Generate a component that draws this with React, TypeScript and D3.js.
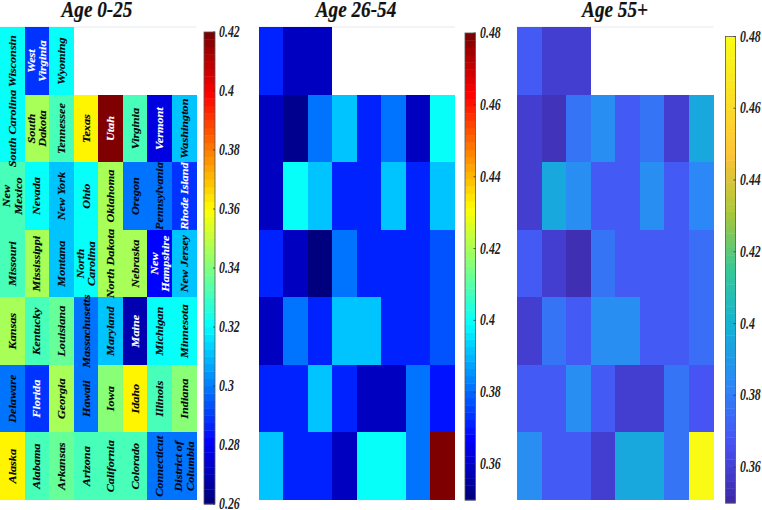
import React from "react";
import * as d3 from "d3";

const titles = ["Age 0-25", "Age 26-54", "Age 55+"];
const labelRows = [
  ["Wisconsin", "West|Virginia", "Wyoming"],
  ["South Carolina", "South|Dakota", "Tennessee", "Texas", "Utah", "Virginia", "Vermont", "Washington"],
  ["New|Mexico", "Nevada", "New York", "Ohio", "Oklahoma", "Oregon", "Pennsylvania", "Rhode Island"],
  ["Missouri", "Mississippi", "Montana", "North|Carolina", "North Dakota", "Nebraska", "New|Hampshire", "New Jersey"],
  ["Kansas", "Kentucky", "Louisiana", "Massachusetts", "Maryland", "Maine", "Michigan", "Minnesota"],
  ["Delaware", "Florida", "Georgia", "Hawaii", "Iowa", "Idaho", "Illinois", "Indiana"],
  ["Alaska", "Alabama", "Arkansas", "Arizona", "California", "Colorado", "Connecticut", "District of|Columbia"],
];
const young = [
  [0.32, 0.288, 0.32],
  [0.32, 0.346, 0.33, 0.36, 0.42, 0.33, 0.275, 0.312],
  [0.33, 0.32, 0.31, 0.32, 0.346, 0.3, 0.3, 0.29],
  [0.33, 0.346, 0.31, 0.32, 0.346, 0.346, 0.28, 0.312],
  [0.346, 0.33, 0.336, 0.3, 0.31, 0.268, 0.32, 0.32],
  [0.3, 0.288, 0.346, 0.3, 0.34, 0.36, 0.33, 0.34],
  [0.36, 0.33, 0.336, 0.33, 0.33, 0.33, 0.3, 0.3],
];
const middle = [
  [0.372, 0.36, 0.36],
  [0.36, 0.353, 0.381, 0.391, 0.372, 0.381, 0.36, 0.4],
  [0.36, 0.4, 0.391, 0.372, 0.372, 0.391, 0.372, 0.391],
  [0.372, 0.36, 0.352, 0.381, 0.372, 0.372, 0.372, 0.378],
  [0.36, 0.381, 0.372, 0.391, 0.391, 0.372, 0.372, 0.378],
  [0.372, 0.372, 0.391, 0.372, 0.36, 0.36, 0.381, 0.37],
  [0.391, 0.372, 0.372, 0.36, 0.4, 0.4, 0.381, 0.48],
];
const senior = [
  [0.37, 0.36, 0.36],
  [0.36, 0.355, 0.377, 0.386, 0.37, 0.377, 0.36, 0.396],
  [0.36, 0.396, 0.386, 0.37, 0.37, 0.386, 0.37, 0.384],
  [0.37, 0.36, 0.354, 0.377, 0.37, 0.37, 0.37, 0.375],
  [0.36, 0.377, 0.37, 0.386, 0.386, 0.37, 0.37, 0.375],
  [0.37, 0.37, 0.386, 0.37, 0.36, 0.36, 0.377, 0.368],
  [0.386, 0.37, 0.37, 0.36, 0.396, 0.396, 0.377, 0.48],
];
const ticksYoung = [0.26, 0.28, 0.3, 0.32, 0.34, 0.36, 0.38, 0.4, 0.42];
const ticksOld = [0.36, 0.38, 0.4, 0.42, 0.44, 0.46, 0.48];

const jetStops = ["#00007f", "#0000ff", "#00ffff", "#ffff00", "#ff0000", "#7f0000"];
const jet = d3.scaleLinear<string>().domain([0, 0.125, 0.375, 0.625, 0.875, 1]).range(jetStops).interpolate(d3.interpolateRgb);
const parulaStops = ["#3e2aa8", "#4852f4", "#2d87f7", "#12b1d6", "#37c897", "#abc739", "#fec338", "#f9fb15"];
const parula = d3.scaleLinear<string>().domain([0, 0.125, 0.25, 0.375, 0.5, 0.625, 0.75, 1]).range(parulaStops).interpolate(d3.interpolateRgb);

const LEVELS = 64;
const quant = (t: number) => Math.min(LEVELS - 1, Math.floor(Math.max(0, Math.min(0.9999, t)) * LEVELS)) / (LEVELS - 1);

const rowBand = d3.scaleBand<number>().domain(d3.range(7)).range([27.3, 500]);
const colScale = (x0: number) => d3.scaleBand<number>().domain(d3.range(8)).range([x0, x0 + 196.5]);

type PanelProps = {
  title: string; titleX: number; x0: number; data: number[][]; domain: [number, number];
  ticks: number[]; map: (t: number) => string; bar: [number, number, number, number]; tickX: number; labels?: string[][];
};

function Panel({ title, titleX, x0, data, domain, ticks, map, bar, tickX, labels }: PanelProps) {
  const col = colScale(x0);
  const norm = d3.scaleLinear().domain(domain).range([0, 1]);
  const fill = (v: number) => map(quant(norm(v)));
  const [bx0, bx1, by0, by1] = bar;
  const by = d3.scaleLinear().domain(domain).range([by1, by0]);
  return (
    <g>
      <text transform={`translate(${titleX},16.5) scale(0.8,1)`} textAnchor="middle" fontFamily="Liberation Serif" fontWeight="bold" fontStyle="italic" fontSize={24} fill="#111" stroke="#111" strokeWidth={0.2}>{title}</text>
      <line x1={x0} x2={x0 + 196.5} y1={27} y2={27} stroke="#e4e8ee" strokeWidth={1} />
      {data.map((row, r) => row.map((v, c) => (
        <rect key={`${r}-${c}`} x={col(c)} y={rowBand(r)} width={col.bandwidth() + 0.3} height={rowBand.bandwidth() + 0.3} fill={fill(v)} shapeRendering="crispEdges" />
      )))}
      {labels && labels.map((row, r) => row.map((lab, c) => {
        const lines = lab.split("|");
        const cx = col(c)! + col.bandwidth() / 2;
        const cy = rowBand(r)! + rowBand.bandwidth() / 2;
        const v = data[r][c];
        const light = v < 0.295 || v > 0.4;
        const ink = light ? "#fff" : "#05050a";
        return (
          <text key={lab} transform={`translate(${cx},${cy}) scale(0.9,1) rotate(-90)`} textAnchor="middle" fontFamily="Liberation Serif" fontWeight="bold" fontStyle="italic" fontSize={12.2} fill={ink} stroke={ink} strokeWidth={0.15}>
            {lines.map((l, i) => (
              <tspan key={l} x={0} y={(i - (lines.length - 1) / 2) * 12.6 + 4}>{l}</tspan>
            ))}
          </text>
        );
      }))}
      {d3.range(LEVELS).map((i) => {
        const t0 = domain[0] + ((domain[1] - domain[0]) * i) / LEVELS;
        const t1 = domain[0] + ((domain[1] - domain[0]) * (i + 1)) / LEVELS;
        return <rect key={i} x={bx0} width={bx1 - bx0} y={by(t1)} height={by(t0) - by(t1) + 0.4} fill={map(i / (LEVELS - 1))} />;
      })}
      <rect x={bx0} y={by0} width={bx1 - bx0} height={by1 - by0} fill="none" stroke="#555" strokeWidth={0.8} />
      {ticks.map((t) => (
        <g key={t}>
          <line x1={bx1 - 2} x2={bx1} y1={by(t)} y2={by(t)} stroke="#333" strokeWidth={0.8} />
          <text transform={`translate(${tickX},${by(t) + 5}) scale(0.72,1)`} fontFamily="Liberation Serif" fontWeight="bold" fontStyle="italic" fontSize={16.5} fill="#222">{String(t)}</text>
        </g>
      ))}
    </g>
  );
}

export default function App() {
  return (
    <svg width={762} height={510} style={{ position: "absolute", left: 0, top: 0, background: "#fff" }}>
      <Panel title={titles[0]} titleX={97} x0={0} data={young} domain={[0.26, 0.42]} ticks={ticksYoung} map={jet} bar={[204, 215, 32, 504]} tickX={219} labels={labelRows} />
      <Panel title={titles[1]} titleX={356} x0={258.5} data={middle} domain={[0.35, 0.48]} ticks={ticksOld} map={jet} bar={[465, 475.5, 33, 500]} tickX={480} />
      <Panel title={titles[2]} titleX={615} x0={517} data={senior} domain={[0.35, 0.48]} ticks={ticksOld} map={parula} bar={[725.5, 735.5, 36.5, 503]} tickX={740} />
    </svg>
  );
}
